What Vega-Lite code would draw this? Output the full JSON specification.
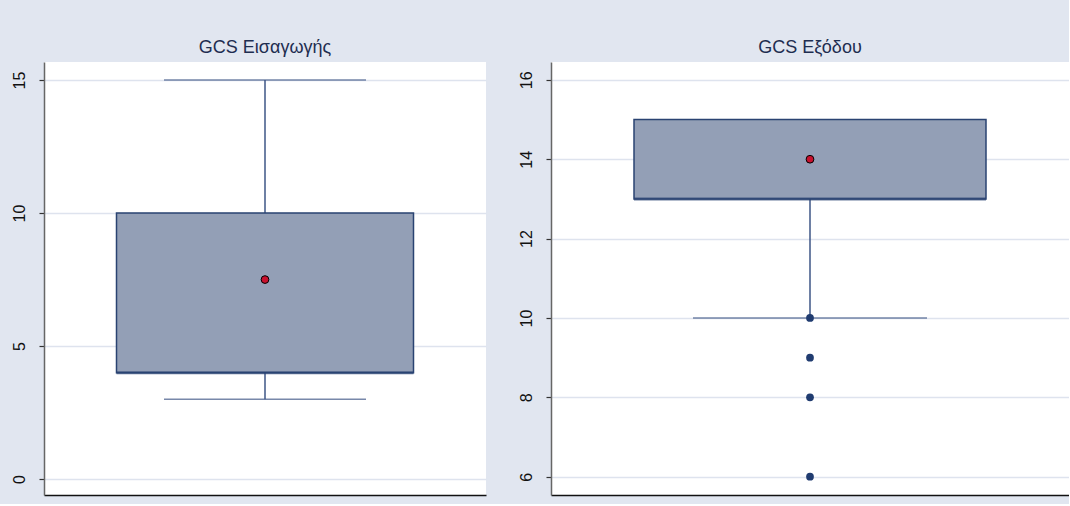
{
  "$schema": "https://vega.github.io/schema/vega-lite/v6.json",
  "background": "#E1E6F0",
  "padding": {"left": 11, "top": 39, "right": 0, "bottom": 9},
  "spacing": 31,
  "config": {
    "font": "Liberation Sans",
    "view": {"fill": "white", "stroke": null},
    "title": {"fontSize": 18, "fontWeight": "normal", "color": "#1E2D50", "anchor": "middle", "offset": 5},
    "axisX": {"labels": false, "ticks": false, "title": null, "grid": false, "domainColor": "#111111", "domainWidth": 1.5},
    "axisY": {
      "title": null, "labelAngle": -90, "labelFontSize": 16, "labelColor": "#111111",
      "labelPadding": 12, "tickSize": 5, "tickColor": "#333333", "tickWidth": 1.2,
      "domainColor": "#666666", "domainWidth": 1.5,
      "grid": true, "gridColor": "#DEE3EE", "gridWidth": 1.5
    }
  },
  "datasets": {
    "summary": [
      {"panel": "GCS Εισαγωγής", "lower": 3, "q1": 4, "median": 4, "q3": 10, "upper": 15, "mean": 7.5},
      {"panel": "GCS Εξόδου", "lower": 10, "q1": 13, "median": 13, "q3": 15, "upper": 15, "mean": 14}
    ],
    "outliers": [
      {"panel": "GCS Εξόδου", "value": 10},
      {"panel": "GCS Εξόδου", "value": 9},
      {"panel": "GCS Εξόδου", "value": 8},
      {"panel": "GCS Εξόδου", "value": 6}
    ]
  },
  "hconcat": [
    {
      "width": 442,
      "height": 433,
      "title": "GCS Εισαγωγής",
      "data": {"name": "summary"},
      "transform": [{"filter": "datum.panel === 'GCS Εισαγωγής'"}],
      "encoding": {
        "x": {"field": "panel", "type": "nominal"}
      },
      "layer": [
        {
          "mark": {"type": "rule", "color": "#3E5686", "strokeWidth": 1.5},
          "encoding": {
            "y": {"field": "lower", "type": "quantitative", "scale": {"domain": [-0.6, 15.68], "nice": false, "zero": false}, "axis": {"values": [0, 5, 10, 15]}},
            "y2": {"field": "upper"}
          }
        },
        {
          "mark": {"type": "tick", "color": "#3E5686", "size": 202, "thickness": 1.5},
          "encoding": {"y": {"field": "lower", "type": "quantitative"}}
        },
        {
          "mark": {"type": "tick", "color": "#3E5686", "size": 202, "thickness": 1.5},
          "encoding": {"y": {"field": "upper", "type": "quantitative"}}
        },
        {
          "mark": {"type": "bar", "size": 297, "fill": "#939FB6", "stroke": "#2A4372", "strokeWidth": 1.5},
          "encoding": {"y": {"field": "q1", "type": "quantitative"}, "y2": {"field": "q3"}}
        },
        {
          "mark": {"type": "tick", "color": "#2A4372", "size": 297, "thickness": 3},
          "encoding": {"y": {"field": "median", "type": "quantitative"}}
        },
        {
          "mark": {"type": "point", "shape": "circle", "filled": true, "fill": "#C8102E", "stroke": "#000000", "strokeWidth": 1, "size": 60, "opacity": 1},
          "encoding": {"y": {"field": "mean", "type": "quantitative"}}
        }
      ]
    },
    {
      "width": 518,
      "height": 433,
      "title": "GCS Εξόδου",
      "layer": [
        {
          "data": {"name": "summary"},
          "transform": [{"filter": "datum.panel === 'GCS Εξόδου'"}],
          "encoding": {"x": {"field": "panel", "type": "nominal"}},
          "layer": [
            {
              "mark": {"type": "rule", "color": "#3E5686", "strokeWidth": 1.5},
              "encoding": {
                "y": {"field": "lower", "type": "quantitative", "scale": {"domain": [5.54, 16.45], "nice": false, "zero": false}, "axis": {"values": [6, 8, 10, 12, 14, 16]}},
                "y2": {"field": "upper"}
              }
            },
            {
              "mark": {"type": "tick", "color": "#3E5686", "size": 234, "thickness": 1.5},
              "encoding": {"y": {"field": "lower", "type": "quantitative"}}
            },
            {
              "mark": {"type": "bar", "size": 352, "fill": "#939FB6", "stroke": "#2A4372", "strokeWidth": 1.5},
              "encoding": {"y": {"field": "q1", "type": "quantitative"}, "y2": {"field": "q3"}}
            },
            {
              "mark": {"type": "tick", "color": "#2A4372", "size": 352, "thickness": 3},
              "encoding": {"y": {"field": "median", "type": "quantitative"}}
            },
            {
              "mark": {"type": "point", "shape": "circle", "filled": true, "fill": "#C8102E", "stroke": "#000000", "strokeWidth": 1, "size": 60, "opacity": 1},
              "encoding": {"y": {"field": "mean", "type": "quantitative"}}
            }
          ]
        },
        {
          "data": {"name": "outliers"},
          "mark": {"type": "point", "shape": "circle", "filled": true, "color": "#203C70", "size": 60, "opacity": 1},
          "encoding": {
            "x": {"field": "panel", "type": "nominal"},
            "y": {"field": "value", "type": "quantitative"}
          }
        }
      ]
    }
  ]
}
